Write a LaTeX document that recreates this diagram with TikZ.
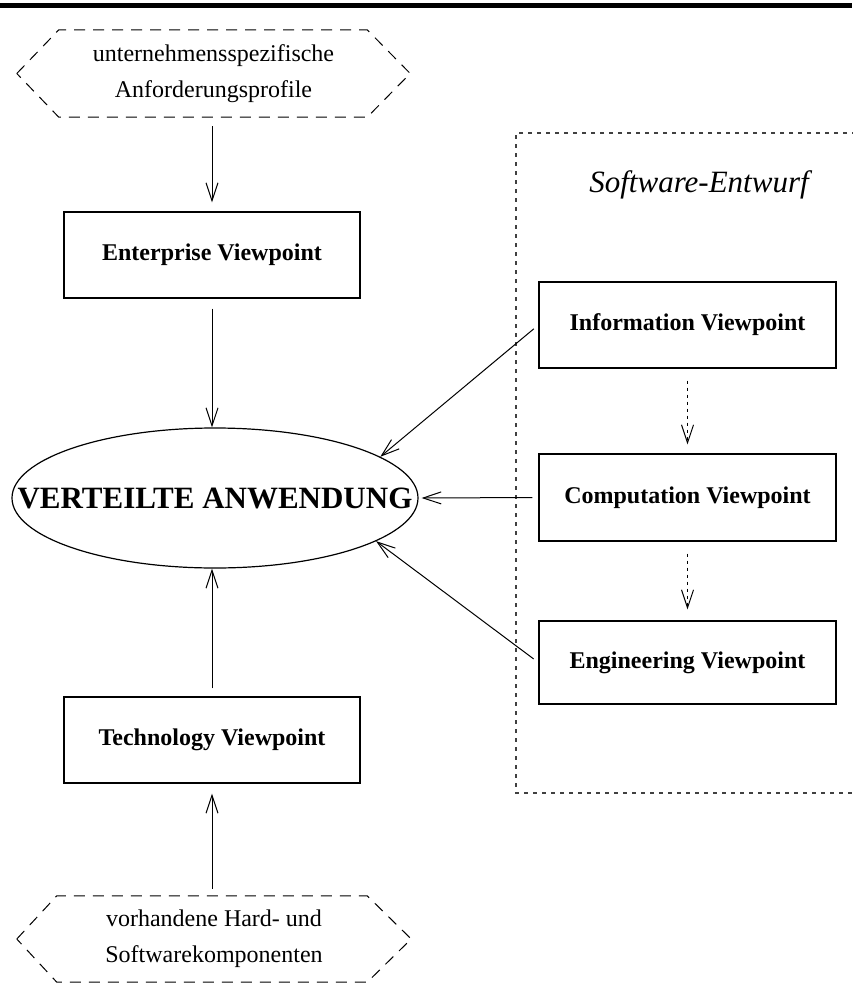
\documentclass[tikz,border=0pt]{standalone}
\usepackage{fontspec}
\setmainfont{Liberation Serif}
\usetikzlibrary{arrows.meta,shapes.geometric}
\begin{document}
\begin{tikzpicture}[x=1pt,y=-1pt,
  viewbox/.style={draw, line width=1.2pt, minimum width=297pt, minimum height=86pt,
    inner sep=0pt, font=\fontsize{24}{28}\selectfont\bfseries},
  reqhex/.style={minimum width=394pt, minimum height=87pt, inner sep=0pt,
    align=center, font=\fontsize{24}{36}\selectfont},
  hexline/.style={line width=1pt, dash pattern=on 11pt off 8pt},
  flow/.style={line width=1pt, -{Straight Barb[length=18pt,width=12pt,line width=1pt]}},
  dflow/.style={flow, dash pattern=on 3pt off 4pt},
  region/.style={line width=1.1pt, black!75, dash pattern=on 4pt off 5pt}
]
\useasboundingbox (0,0) rectangle (852,983);

% heavy rule along the top edge
\fill (0,3) rectangle (852,8);

% requirement profiles (dashed hexagon)
\node[reqhex, minimum width=393pt] (req) at (213.5,73.5)
  {unternehmensspezifische\\Anforderungsprofile};
\draw[hexline] (req.west) -- ([xshift=42pt]req.north west) -- ([xshift=-43pt]req.north east)
  -- (req.east) -- ([xshift=-43pt]req.south east) -- ([xshift=42pt]req.south west) -- cycle;

% existing hardware and software (dashed hexagon)
\node[reqhex, minimum height=86pt] (hw) at (214,939)
  {vorhandene Hard- und\\Softwarekomponenten};
\draw[hexline] (hw.west) -- ([xshift=40pt]hw.north west) -- ([xshift=-44pt]hw.north east)
  -- (hw.east) -- ([xshift=-44pt]hw.south east) -- ([xshift=40pt]hw.south west) -- cycle;

% viewpoints
\node[viewbox, minimum width=296pt] (ent) at (212,255) {Enterprise Viewpoint};
\node[viewbox, minimum width=296pt] (tech) at (212,740) {Technology Viewpoint};
\node[viewbox] (info) at (687.5,325) {Information Viewpoint};
\node[viewbox, minimum height=87pt] (comp) at (687.5,497.5) {Computation Viewpoint};
\node[viewbox, minimum height=83pt] (eng) at (687.5,662.5) {Engineering Viewpoint};

% the distributed application
\node[ellipse, draw, line width=1.2pt, minimum width=406pt, minimum height=140pt, inner sep=0pt,
  label={[font=\fontsize{31}{36}\selectfont\bfseries]center:VERTEILTE ANWENDUNG}]
  (app) at (215,498) {};

% software design region (open on the right)
\draw[region] (856,133) -- (516,133) -- (516,793) -- (856,793);
\node[font=\fontsize{31}{36}\selectfont\itshape, anchor=base] (swlabel) at (699,192)
  {Software-Entwurf};

% connectors
\draw[flow, shorten <=9pt, shorten >=9pt] (req.south -| ent.north) -- (ent.north);
\draw[flow, shorten <=10pt] (ent.south) -- (ent.south |- app.north);
\draw[flow, shorten <=8pt] (tech.north) -- (tech.north |- app.south);
\draw[flow, shorten <=7pt, shorten >=10pt] (hw.north -| tech.south) -- (tech.south);
\draw[flow, shorten <=6pt] (info.west) -- (app.14);
\draw[flow, shorten <=6pt, shorten >=3pt] (comp.west) -- (app.east);
\draw[flow, shorten <=6pt] (eng.west) -- (app.-15);
\draw[dflow, shorten <=12pt, shorten >=9pt] (info.south) -- (comp.north);
\draw[dflow, shorten <=12pt, shorten >=11pt] (comp.south) -- (eng.north);
\end{tikzpicture}
\end{document}
